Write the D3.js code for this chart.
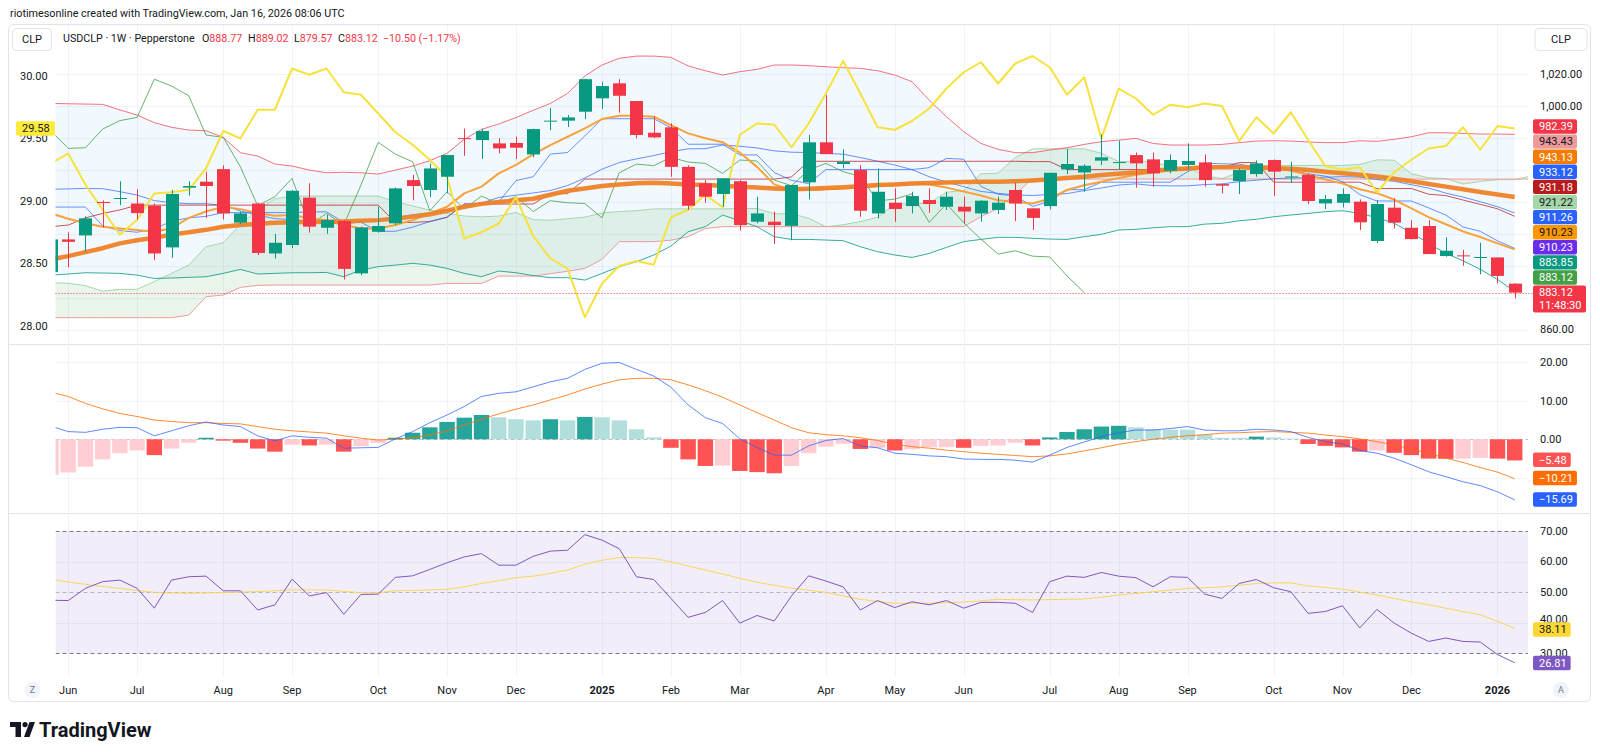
<!DOCTYPE html>
<html lang="en">
<head>
<meta charset="utf-8">
<title>USDCLP 1W</title>
<script src="https://d3js.org/d3.v7.min.js"></script>
<style>
  body { margin: 0; background: #ffffff; }
  svg text { font-family: Roboto, "Noto Sans", "DejaVu Sans", sans-serif; }
</style>
</head>
<body>
<svg id="chart" width="1600" height="756"></svg>
<script>
// weekly candles, week of May 27 2024 .. week of Jan 12 2026 (86 bars)
const open = [896, 916.5, 919, 940, 942, 939, 937.6, 911.5, 949, 952.7,
  960.6, 927, 939, 907.7, 913, 942.7, 923.8, 928, 895.2, 921.3,
  926.6, 953.7, 947.5, 955.8, 980, 978.8, 976.7, 977, 969.8, 990.5,
  991, 996.6, 1005, 1014.4, 1003.3, 983.4, 986.8, 962, 951.7, 945,
  953, 927.6, 927.6, 925, 952.3, 977.4, 963.8, 960, 932.8, 939.5,
  937.4, 941.2, 937, 937, 932.8, 935, 947.5, 936, 937.4, 960.4,
  958.5, 965.9, 964.5, 969.4, 966.7, 959.6, 963.2, 964.8, 951.2, 953.1,
  957.5, 966.3, 955.5, 957, 939.1, 939.5, 940.2, 915.5, 936.4, 923.8,
  924.9, 906.1, 906.5, 905, 905.2, 888.77];
const high = [917, 921, 931, 941, 953, 948, 939, 947.5, 953, 959,
  963, 934, 939.5, 920, 947.5, 951.7, 932, 928.6, 924.5, 937,
  949, 957, 964, 969.4, 986, 986, 980, 981, 986, 999,
  994.5, 1017.3, 1015.4, 1017, 1003.3, 993.5, 989.3, 963, 953.7, 955,
  953.7, 943.3, 934, 950.6, 982, 1007, 973, 963, 961, 948.5,
  946.4, 948.5, 946.4, 943.3, 941, 943.3, 952, 936, 958.3, 973,
  963.6, 982.4, 978.4, 971, 971, 969.8, 976.7, 969.8, 951.2, 961.1,
  966, 966.7, 965.2, 958, 944.3, 948.5, 941.6, 941.2, 942.2, 928.6,
  928.6, 917.8, 910, 914.4, 905.2, 889.02];
const low = [895, 899, 909, 924, 938, 929, 903.5, 905, 944, 930,
  929, 926, 906.7, 904.6, 911, 920.7, 920, 891.4, 894, 920.7,
  925.5, 941, 943, 945.4, 969, 967, 970.5, 967, 968, 985,
  987, 992, 998.3, 996, 980, 980, 955.8, 935, 939.5, 937,
  922, 926.6, 913.6, 916, 941.6, 970, 961, 930.7, 929.7, 927.6,
  932.8, 933.2, 935, 926.6, 927.6, 932.4, 928, 922.4, 935.3, 957.5,
  946.4, 963.2, 960.6, 949, 949.6, 957.9, 960.4, 949.6, 945.4, 945,
  955.8, 943.7, 952, 938.5, 935.6, 936.6, 922.4, 914.4, 923.4, 916.5,
  907.3, 905.6, 900, 894.6, 889, 879.57];
const close = [916.5, 915, 929.7, 939.3, 942.5, 933, 907.7, 945, 950, 950,
  932.8, 932.8, 908, 914.4, 947, 924.5, 928.6, 898, 924, 924.9,
  948.5, 950, 961, 969.4, 979.5, 984.5, 973.6, 974, 985.7, 991,
  993, 1017, 1012.7, 1006.6, 982, 980.5, 962, 937.6, 943.3, 954.8,
  925.5, 932.8, 925.5, 950.6, 977.4, 970, 965.2, 934.5, 946.4, 935.6,
  943.7, 938.7, 943.3, 934, 940.8, 939.5, 939, 930, 958.3, 963.8,
  962.7, 968, 965, 964.2, 957.9, 966.3, 965.7, 953.7, 950.2, 960,
  964.2, 959, 956, 940.6, 941.8, 945, 927.2, 938.7, 927, 916.7,
  907.3, 909.4, 906, 905.5, 893.62, 883.12];

// overlay symbol on the left scale (yellow)
const leftSeries = [29.30, 29.38, 29.13, 28.93, 28.73, 28.85, 29.06, 29.07, 29.09, 29.26,
  29.56, 29.50, 29.73, 29.73, 30.06, 30.01, 30.06, 29.87, 29.85, 29.70,
  29.55, 29.45, 29.33, 29.19, 28.70, 28.75, 28.82, 29.03, 28.72, 28.54,
  28.46, 28.07, 28.34, 28.48, 28.52, 28.49, 28.87, 28.93, 29.05, 28.95,
  29.53, 29.62, 29.61, 29.43, 29.62, 29.86, 30.12, 29.86, 29.59, 29.57,
  29.64, 29.74, 29.90, 30.03, 30.11, 29.94, 30.10, 30.16, 30.07, 29.85,
  29.99, 29.50, 29.90, 29.82, 29.69, 29.77, 29.75, 29.78, 29.76, 29.48,
  29.67, 29.54, 29.71, 29.49, 29.28, 29.25, 29.27, 29.07, 29.23, 29.33,
  29.42, 29.44, 29.59, 29.41, 29.60, 29.58];

// Bollinger bands
const bbUpper = [1001.8, 1001.6, 1001.4, 1001.2, 997.7, 994.5, 989.7, 986.8, 985.1, 984.7,
  980.5, 970.9, 968.8, 963.8, 962.5, 960.0, 958.3, 958.6, 958.3, 957.5,
  960.0, 962.5, 965.9, 970.5, 979.3, 985.5, 988.9, 992.9, 997.5, 1001.8,
  1008.1, 1019.0, 1025.9, 1030.1, 1031.5, 1031.5, 1030.7, 1025.3, 1022.3, 1019.6,
  1021.7, 1023.2, 1025.9, 1025.9, 1025.5, 1024.8, 1024.2, 1023.8, 1022.3, 1019.6,
  1015.4, 1003.9, 993.5, 984.1, 976.7, 973.0, 970.9, 970.9, 972.6, 974.0,
  976.1, 977.8, 978.8, 979.9, 976.7, 975.7, 975.7, 975.7, 976.1, 977.2,
  978.2, 978.4, 978.2, 977.6, 977.2, 977.2, 978.4, 978.0, 979.3, 980.9,
  983.4, 983.4, 983.0, 982.6, 982.6, 982.39];
const bbBasis = [947.95, 948.2, 948.5, 948.3, 946.45, 944.3, 940.85, 939.55, 938.9, 938.9,
  937.85, 934.3, 931.8, 929.5, 929.05, 927.8, 927.05, 925.85, 927.8, 928.45,
  930.2, 932.0, 933.15, 934.4, 937.25, 939.3, 942.8, 944.25, 945.65, 947.15,
  950.3, 955.0, 960.55, 964.75, 967.0, 969.1, 971.5, 973.3, 973.4, 975.7,
  974.95, 973.85, 972.05, 971.2, 971.0, 970.45, 969.95, 967.85, 965.55, 963.15,
  960.3, 955.8, 952.5, 949.6, 946.6, 945.4, 944.35, 944.05, 944.65, 945.25,
  947.15, 948.75, 950.6, 951.35, 950.25, 950.1, 950.1, 950.9, 951.35, 952.7,
  953.65, 954.55, 955.0, 955.2, 955.55, 955.85, 955.6, 954.05, 952.95, 950.8,
  948.7, 945.55, 943.05, 940.15, 937.0, 933.12];
const bbLower = [894.1, 894.8, 895.6, 895.4, 895.2, 894.1, 892.0, 892.3, 892.7, 893.1,
  895.2, 897.7, 894.8, 895.2, 895.6, 895.6, 895.8, 893.1, 897.3, 899.4,
  900.4, 901.5, 900.4, 898.3, 895.2, 893.1, 896.7, 895.6, 893.8, 892.5,
  892.5, 891.0, 895.2, 899.4, 902.5, 906.7, 912.3, 921.3, 924.5, 931.8,
  928.2, 924.5, 918.2, 916.5, 916.5, 916.1, 915.7, 911.9, 908.8, 906.7,
  905.2, 907.7, 911.5, 915.1, 916.5, 917.8, 917.8, 917.2, 916.7, 916.5,
  918.2, 919.7, 922.4, 922.8, 923.8, 924.5, 924.5, 926.1, 926.6, 928.2,
  929.1, 930.7, 931.8, 932.8, 933.9, 934.5, 932.8, 930.1, 926.6, 920.7,
  914.0, 907.7, 903.1, 897.7, 891.4, 883.85];

// Ichimoku
const tenkan = [936.8, 936.8, 936.8, 925, 922, 921, 923, 928, 930, 931,
  933.3, 933.3, 933.3, 933.3, 933.3, 933.8, 933.8, 927.2, 927.2, 921.6,
  921.6, 924.2, 927.7, 930.4, 938.7, 938.7, 940, 953.4, 955.8, 970,
  971, 981.4, 992.2, 992.2, 992.2, 992.2, 986.6, 976.2, 976.2, 976.2,
  969.5, 969.5, 958.5, 953.6, 951.5, 960.3, 960.3, 960.3, 960.3, 960.3,
  960.3, 961.5, 967.3, 966.8, 949.8, 944.8, 943.8, 937.2, 940.4, 947.7,
  947.7, 952.4, 952.4, 952.4, 952.4, 952.4, 958.9, 964.4, 963.9, 963.7,
  961.7, 960.2, 960.2, 957.6, 956.2, 952.7, 944.6, 940.6, 940.6, 940.6,
  936.3, 931.8, 924.3, 921.6, 915.6, 910.9];
const kijun = [924.5, 925.5, 930, 932.8, 935, 938, 938, 938, 938, 938,
  938, 938, 938, 938, 938, 938, 938, 938, 938, 938,
  927.2, 927.2, 927.7, 930.4, 938.7, 938.7, 938.7, 938.7, 938.7, 945.2,
  945.2, 954.35, 954.35, 954.35, 954.35, 954.35, 954.35, 954.35, 954.35, 954.35,
  954.35, 954.35, 954.35, 955.7, 965.5, 965.5, 965.5, 965.5, 965.5, 965.5,
  965.5, 965.5, 965.5, 965.5, 965.5, 965.5, 965.5, 965.3, 965.3, 960.3,
  960.3, 960.3, 960.3, 960.3, 960.3, 960.3, 960.3, 960.3, 961.5, 964.7,
  964.7, 952.4, 952.4, 952.4, 952.4, 952.4, 952.4, 948.4, 948.4, 948.4,
  944.85, 944, 941.2, 938.5, 935.7, 931.0];
const chikou = [984.5, 973.6, 974, 985.7, 991, 993, 1017, 1012.7, 1006.6, 982,
  980.5, 962, 937.6, 943.3, 954.8, 925.5, 932.8, 925.5, 950.6, 977.4,
  970, 965.2, 934.5, 946.4, 935.6, 943.7, 938.7, 943.3, 934, 940.8,
  939.5, 939, 930, 958.3, 963.8, 962.7, 968, 965, 964.2, 957.9,
  966.3, 965.7, 953.7, 950.2, 960, 964.2, 959, 956, 940.6, 941.8,
  945, 927.2, 938.7, 927, 916.7, 907.3, 909.4, 906, 905.5, 893.62,
  883.12];
const spanA = [889.3, 889, 887.5, 884, 885.2, 885.2, 890, 895.2, 900.4, 911.9,
  914.4, 926, 935, 942, 943.7, 943.7, 943.7, 943.7, 943.7, 943.7,
  940.2, 937.5, 934.9, 932.8, 931.2, 930.65, 931.15, 933.4, 928.9, 928.5,
  929.5, 930.5, 933, 934, 934.5, 935.65, 935.65, 935.65, 935.65, 935.65,
  935.9, 935.9, 932.6, 932.6, 929.8, 924.4, 925.7, 927.7, 930.4, 938.7,
  938.7, 939.35, 946.05, 947.25, 957.6, 958.1, 967.9, 973.3, 973.3, 973.3,
  973.3, 970.5, 965.3, 965.3, 965.3, 961.9, 961.9, 956.4, 954.65, 958.5,
  962.9, 962.9, 962.9, 962.9, 962.9, 962.9, 963.5, 966.4, 966.15, 957.65,
  955.15, 954.65, 951.25, 952.85, 954, 954, 956.35];
const spanB = [867.4, 867.4, 867.4, 867.4, 867.4, 867.4, 867.4, 867.4, 869, 880.6,
  881.6, 886.4, 887.7, 887.9, 887.9, 887.9, 887.9, 887.9, 887.9, 887.9,
  887.9, 887.9, 887.9, 888.9, 888.9, 888.9, 893.5, 893.5, 893.5, 895,
  896.5, 898.3, 904, 915.1, 915.1, 915.1, 916, 918.2, 923.4, 924.5,
  924.5, 924.5, 924.5, 924.5, 924.5, 924.5, 924.5, 924.5, 924.5, 924.5,
  924.5, 924.5, 924.5, 924.5, 930.7, 936, 945.2, 954.35, 954.35, 954.35,
  954.35, 954.35, 954.35, 954.35, 954.35, 954.35, 954.35, 954.35, 954.35, 954.35,
  954.35, 954.35, 954.35, 954.35, 954.35, 954.35, 954.35, 954.35, 954.35, 954.35,
  954.35, 954.35, 954.35, 954.35, 954.35, 954.35, 954.35];

// moving averages
const maFast = [932.8, 929.5, 926.6, 924.5, 923.4, 922.4, 921.3, 923.5, 930, 934,
  937, 935.5, 933, 931.4, 931.8, 929.7, 928.6, 925.5, 923.4, 923.4,
  925.5, 928.6, 932.8, 937, 945.4, 949.6, 957.9, 963.2, 969.8, 975.7,
  980.9, 986.2, 992, 994.1, 994.1, 993.5, 988.2, 983, 979.9, 977.5,
  971, 962, 951, 947.5, 947.5, 948, 948.5, 949, 950, 951,
  951.5, 951, 949, 946.5, 944, 941, 940, 939, 942, 947.5,
  950.5, 952.7, 955, 957, 958.5, 960, 960.7, 961.1, 961.7, 962,
  962, 961.5, 959.5, 957, 954, 951.5, 948, 945.5, 941.5, 936,
  930.5, 926, 921.5, 918, 914, 910.23];
const maSlow = [904, 906, 908.5, 911, 914, 916, 917.5, 919.5, 921, 922.5,
  924.5, 925.5, 926.3, 927, 927.2, 927.4, 927.6, 927.8, 928.2, 928.6,
  929.5, 930.8, 932.3, 934.5, 937, 938.8, 940, 941, 942, 944.5,
  947, 948.5, 950, 951, 951.8, 952.1, 951.5, 951, 950.6, 950.2,
  949.6, 949, 948.5, 948, 948.3, 948.8, 949.2, 949.8, 950.6, 951,
  951.5, 951.9, 952.2, 952.5, 952.7, 952.7, 953, 953.5, 954.2, 955,
  955.8, 956.9, 957.7, 958.5, 959.6, 960.3, 961, 961.7, 961.7, 961.7,
  961.5, 961.2, 960.8, 960, 959, 958, 957, 956, 954.5, 953,
  951.3, 949.6, 948, 946.3, 944.7, 943.13];

// MACD
const macdHist = [-9.2, -8.6, -7.1, -5.2, -3.6, -2.9, -4.1, -2.4, -0.9, 0.4,
  -0.35, -0.9, -2.4, -3.2, -1.4, -1.6, -1.4, -3.2, -1.8, -1.0,
  0.4, 1.7, 3.1, 4.5, 5.6, 6.3, 5.7, 5.2, 4.9, 5.2,
  4.9, 5.8, 5.7, 4.9, 2.6, 0.5, -2.2, -5.2, -6.9, -6.8,
  -8.2, -8.5, -8.8, -6.9, -3.6, -1.9, -1.2, -2.5, -2.3, -2.9,
  -2.6, -2.1, -2.05, -2.2, -1.7, -1.6, -0.9, -1.6, 0.5, 1.9,
  2.6, 3.3, 3.5, 3.1, 2.6, 2.5, 2.5, 1.2, 0.4, 0.4,
  0.7, 0.5, 0.2, -1.2, -1.7, -2.1, -3.2, -2.9, -3.5, -4.1,
  -5.0, -5.05, -5.0, -4.8, -5.0, -5.48];
const macdLine = [3.4, 2.0, 1.8, 2.6, 3.1, 3.0, 0.9, 2.2, 3.5, 4.5,
  3.7, 3.3, 0.9, -0.4, 0.9, 0.5, 0.3, -2.3, -2.2, -2.1,
  0.1, 2.0, 4.3, 6.3, 8.5, 11.1, 11.9, 12.3, 13.6, 14.9,
  15.8, 18.1, 19.7, 19.9, 18.1, 16.4, 13.5, 8.9, 5.6, 4.1,
  0.1, -2.1, -4.1, -4.1, -1.7, -0.3, 0.2, -1.7, -2.2, -3.6,
  -3.9, -4.3, -4.5, -5.1, -5.2, -5.2, -5.4, -5.9, -4.1, -2.1,
  -0.7, 0.7, 1.7, 2.4, 2.4, 2.8, 3.3, 2.4, 2.2, 2.2,
  2.6, 2.4, 2.0, 0.5, -0.6, -1.2, -2.9, -3.6, -4.9, -6.6,
  -8.4, -9.7, -11.0, -12.0, -13.6, -15.69];
const signalLine = [12.2, 11.1, 9.3, 7.9, 6.7, 5.9, 5.0, 4.6, 4.3, 4.3,
  4.1, 4.0, 3.3, 2.6, 2.2, 1.9, 1.6, 0.9, 0.3, -0.2,
  0.0, 0.4, 1.1, 2.2, 3.7, 5.2, 6.6, 7.8, 8.9, 10.2,
  11.5, 13.0, 14.3, 15.4, 15.8, 15.8, 15.4, 14.1, 12.6, 10.9,
  8.9, 6.9, 5.0, 3.0, 1.7, 1.2, 0.9, 0.4, -0.3, -1.3,
  -1.9, -2.3, -2.8, -3.2, -3.6, -3.9, -4.2, -4.5, -4.3, -3.8,
  -3.0, -2.2, -1.3, -0.6, 0.0, 0.5, 0.9, 1.2, 1.6, 1.7,
  1.9, 2.0, 1.8, 1.6, 1.1, 0.7, 0.1, -0.6, -1.5, -2.5,
  -3.6, -4.9, -6.0, -7.3, -8.5, -10.21];

// RSI and its moving average
const rsi = [47.3, 47.2, 51.2, 53.4, 53.9, 51.2, 44.7, 53.9, 55.0, 55.2,
  50.4, 50.4, 44.1, 45.8, 54.2, 48.7, 49.8, 42.7, 49.2, 49.3,
  54.8, 55.3, 57.4, 59.6, 61.5, 62.6, 58.8, 58.8, 61.7, 63.4,
  63.7, 68.8, 67.0, 64.2, 55.0, 54.1, 47.9, 41.7, 43.3, 47.2,
  39.8, 42.3, 40.5, 48.7, 55.3, 53.6, 51.7, 44.1, 47.2, 44.9,
  46.8, 45.8, 47.2, 44.7, 46.6, 46.6, 46.3, 43.3, 53.4, 55.2,
  54.8, 56.4, 55.2, 54.7, 51.7, 55.0, 54.8, 49.3, 47.9, 52.8,
  54.1, 51.4, 50.1, 43.0, 43.6, 45.5, 38.2, 44.3, 39.8, 36.5,
  33.8, 34.9, 33.8, 33.6, 29.5, 26.81];
const rsiMa = [54.2, 53.3, 52.5, 51.8, 51.2, 50.5, 49.9, 49.7, 49.6, 49.7,
  49.8, 50.0, 50.1, 50.4, 50.7, 50.7, 50.7, 50.2, 49.8, 49.8,
  50.4, 50.5, 50.7, 50.9, 51.7, 52.8, 53.7, 54.7, 55.2, 56.1,
  57.2, 59.1, 60.4, 61.3, 61.3, 61.0, 59.9, 58.5, 57.2, 55.9,
  54.5, 53.2, 52.2, 51.3, 50.6, 49.9, 48.7, 47.6, 46.9, 46.3,
  46.3, 46.3, 46.5, 46.7, 47.1, 47.6, 47.5, 47.4, 47.5, 47.6,
  47.7, 48.3, 49.0, 49.5, 50.1, 50.6, 51.2, 51.4, 51.7, 52.2,
  52.8, 53.0, 53.0, 52.0, 51.5, 50.9, 50.0, 49.0, 47.9, 46.8,
  45.8, 44.7, 43.6, 42.5, 40.4, 38.11];

// axis labels
const monthLabels = ["Jun", "Jul", "Aug", "Sep", "Oct", "Nov", "Dec", "2025", "Feb", "Mar",
  "Apr", "May", "Jun", "Jul", "Aug", "Sep", "Oct", "Nov", "Dec", "2026"];
const monthBars = [1, 5, 10, 14, 19, 23, 27, 32, 36, 40, 45, 49, 53, 58, 62, 66, 71, 75, 79, 84];
const leftTicks = [28, 28.5, 29, 29.5, 30];
const priceTicks = [1020, 1000, 860];
const macdTicks = [20, 10, 0];
const rsiTicks = [70, 60, 50, 40, 30];
const priceTags = ["982.39", "943.43", "943.13", "933.12", "931.18", "921.22", "911.26", "910.23", "910.23", "883.85", "883.12"];
const macdTags = ["\u22125.48", "\u221210.21", "\u221215.69"];
const rsiTags = ["38.11", "26.81"];
const leftTag = "29.58";
const headerText = "riotimesonline created with TradingView.com, Jan 16, 2026 08:06 UTC";
const symbolText = "USDCLP \u00b7 1W \u00b7 Pepperstone";
const countdown = "11:48:30";

// ---------------------------------------------------------------
const svg = d3.select("#chart");
const paneL = 55.5, paneR = 1528;
const priceTop = 25, priceBot = 344, macdBot = 513, rsiBot = 677;
const ink = "#131722", up = "#089981", down = "#F23645";

const x = d3.scaleLinear().domain([0, 85]).range([51, 1514.7]);
const yP = d3.scaleLinear().domain([860, 1020]).range([329.5, 74.4]);
const yL = d3.scaleLinear().domain([28, 30]).range([326, 76]);
const yM = d3.scaleLinear().domain([-10, 20]).range([477.9, 362.1]);
const yR = d3.scaleLinear().domain([30, 70]).range([653, 531]);
const crisp = v => Math.round(v) + 0.5;

const defs = svg.append("defs");
function addClip(id, y0, y1) {
  defs.append("clipPath").attr("id", id).append("rect")
    .attr("x", paneL).attr("y", y0).attr("width", paneR - paneL).attr("height", y1 - y0);
}
addClip("cp-price", priceTop, priceBot);
addClip("cp-macd", priceBot, macdBot);
addClip("cp-rsi", macdBot, rsiBot);

// frame + pane separators
svg.append("rect").attr("x", 8.5).attr("y", 24.5).attr("width", 1582).attr("height", 677)
  .attr("rx", 5).attr("fill", "#fff").attr("stroke", "#e0e3eb");
[priceBot, macdBot].forEach(v => svg.append("line").attr("x1", 9).attr("x2", 1590)
  .attr("y1", v + 0.5).attr("y2", v + 0.5).attr("stroke", "#e0e3eb"));

// grid
const grid = svg.append("g").attr("stroke", "#f0f3fa");
monthBars.forEach(i => grid.append("line").attr("x1", crisp(x(i))).attr("x2", crisp(x(i)))
  .attr("y1", priceTop).attr("y2", rsiBot));
d3.range(860, 1021, 20).forEach(v => grid.append("line").attr("x1", paneL).attr("x2", paneR)
  .attr("y1", crisp(yP(v))).attr("y2", crisp(yP(v))));
[20, 10, -10].forEach(v => grid.append("line").attr("x1", paneL).attr("x2", paneR)
  .attr("y1", crisp(yM(v))).attr("y2", crisp(yM(v))));
[60, 40].forEach(v => grid.append("line").attr("x1", paneL).attr("x2", paneR)
  .attr("y1", crisp(yR(v))).attr("y2", crisp(yR(v))));

// ---------------- price pane ----------------
const gp = svg.append("g").attr("clip-path", "url(#cp-price)");
const lineGen = y => d3.line().x((d, i) => x(i)).y(d => y(d));
function drawLine(g, data, y, color, width, opacity) {
  g.append("path").datum(data).attr("fill", "none").attr("stroke", color)
    .attr("stroke-width", width).attr("stroke-opacity", opacity)
    .attr("stroke-linejoin", "round").attr("d", lineGen(y));
}

// bollinger fill
gp.append("path").datum(bbUpper).attr("fill", "rgba(33,150,243,0.06)")
  .attr("d", d3.area().x((d, i) => x(i)).y0((d, i) => yP(bbLower[i])).y1(d => yP(d)));

// ichimoku cloud, split into runs of one colour
const runs = [];
for (let i = 0; i < spanA.length - 1; i++) {
  const bull = spanA[i] + spanA[i + 1] >= spanB[i] + spanB[i + 1];
  const lastRun = runs[runs.length - 1];
  if (lastRun && lastRun.bull === bull) lastRun.end = i + 1;
  else runs.push({ bull, start: i, end: i + 1 });
}
runs.forEach(r => {
  const idx = d3.range(r.start, r.end + 1);
  gp.append("path").datum(idx)
    .attr("fill", r.bull ? "rgba(67,160,71,0.11)" : "rgba(244,67,54,0.11)")
    .attr("d", d3.area().x(i => x(i)).y0(i => yP(spanB[i])).y1(i => yP(spanA[i])));
});
drawLine(gp, spanA, yP, "#A5D6A7", 1, 1);
drawLine(gp, spanB, yP, "#EF9A9A", 1, 1);

drawLine(gp, bbUpper, yP, "#F23645", 1, 0.7);
drawLine(gp, bbLower, yP, "#089981", 1, 0.8);
drawLine(gp, bbBasis, yP, "#2962FF", 1, 0.7);
drawLine(gp, kijun, yP, "#B71C1C", 1, 0.75);
drawLine(gp, tenkan, yP, "#2962FF", 1, 0.7);
drawLine(gp, chikou, yP, "#43A047", 1, 0.8);
drawLine(gp, maFast, yP, "#F7A23B", 2, 1);
drawLine(gp, maSlow, yP, "#EF8228", 4.5, 0.95);
drawLine(gp, leftSeries, yL, "#F7E23C", 2, 1);

// candles
const candles = gp.append("g");
open.forEach((o, i) => {
  const c = close[i], col = c >= o ? up : down, cx = crisp(x(i));
  candles.append("line").attr("x1", cx).attr("x2", cx)
    .attr("y1", yP(high[i])).attr("y2", yP(low[i])).attr("stroke", col);
  const top = yP(Math.max(o, c)), bot = yP(Math.min(o, c));
  candles.append("rect").attr("x", Math.round(x(i)) - 6).attr("width", 13)
    .attr("y", top).attr("height", Math.max(1, bot - top)).attr("fill", col);
});
// last price line
const lastY = yP(close[close.length - 1]);
svg.append("line").attr("x1", paneL).attr("x2", paneR + 5).attr("y1", crisp(lastY)).attr("y2", crisp(lastY))
  .attr("stroke", down).attr("stroke-dasharray", "1,2");

// ---------------- MACD pane ----------------
const gm = svg.append("g").attr("clip-path", "url(#cp-macd)");
gm.append("line").attr("x1", paneL).attr("x2", paneR).attr("y1", crisp(yM(0))).attr("y2", crisp(yM(0)))
  .attr("stroke", "#787B86").attr("stroke-opacity", 0.5).attr("stroke-dasharray", "4,3");
macdHist.forEach((h, i) => {
  const prev = i > 0 ? macdHist[i - 1] : h;
  const col = h >= 0 ? (h > prev ? "#26A69A" : "#B2DFDB") : (h < prev ? "#FF5252" : "#FFCDD2");
  const y0 = yM(0), y1 = yM(h);
  gm.append("rect").attr("x", x(i) - 7.7).attr("width", 15.4)
    .attr("y", Math.min(y0, y1)).attr("height", Math.max(0.8, Math.abs(y1 - y0))).attr("fill", col);
});
drawLine(gm, signalLine, yM, "#FF6D00", 1, 0.8);
drawLine(gm, macdLine, yM, "#2962FF", 1, 0.75);

// ---------------- RSI pane ----------------
const gr = svg.append("g").attr("clip-path", "url(#cp-rsi)");
gr.append("rect").attr("x", paneL).attr("width", paneR - paneL).attr("y", yR(70))
  .attr("height", yR(30) - yR(70)).attr("fill", "rgba(126,87,194,0.1)");
[[70, 1], [50, 0.5], [30, 1]].forEach(([v, op]) => gr.append("line")
  .attr("x1", paneL).attr("x2", paneR).attr("y1", crisp(yR(v))).attr("y2", crisp(yR(v)))
  .attr("stroke", "#787B86").attr("stroke-opacity", op).attr("stroke-dasharray", "4,3"));
drawLine(gr, rsiMa, yR, "#F9D34A", 1, 0.9);
drawLine(gr, rsi, yR, "#7E57C2", 1, 1);

// ---------------- axes ----------------
const axisFont = 11;
function axisText(tx, ty, str, anchor) {
  return svg.append("text").attr("x", tx).attr("y", ty).attr("dy", "0.35em")
    .attr("text-anchor", anchor || "start").attr("font-size", axisFont).attr("fill", ink).text(str);
}
const fmt2 = d3.format(",.2f");
priceTicks.forEach(v => axisText(1540, yP(v), fmt2(v)));
macdTicks.forEach(v => axisText(1540, yM(v), fmt2(v)));
// 40 and 30 sit partly under the value tags, as in the original
rsiTicks.forEach(v => axisText(1540, yR(v) - (v === 40 ? 3 : 0), fmt2(v)));
leftTicks.forEach(v => axisText(20, yL(v), d3.format(".2f")(v)));

function tag(tx, cy, str, bg, fg, minW) {
  const t = svg.append("text").attr("x", tx + 6).attr("y", cy).attr("dy", "0.35em")
    .attr("font-size", axisFont).attr("fill", fg).text(str);
  const w = Math.max(minW || 0, t.node().getComputedTextLength() + 10);
  svg.insert("rect", () => t.node()).attr("x", tx).attr("y", cy - 7.2).attr("width", w)
    .attr("height", 14.4).attr("rx", 2).attr("fill", bg);
}
const tagStyle = [["#F23645", "#fff"], ["#EF9A9A", ink], ["#F57C00", "#fff"], ["#2962FF", "#fff"],
  ["#B71C1C", "#fff"], ["#A5D6A7", ink], ["#2962FF", "#fff"], ["#FF9800", ink],
  ["#6A2CF0", "#fff"], ["#089981", "#fff"], ["#43A047", "#fff"]];
priceTags.forEach((s, k) => tag(1533, 126.5 + 15.1 * k, s, tagStyle[k][0], tagStyle[k][1], 44));
// last price with countdown
const lpTop = 126.5 + 15.1 * priceTags.length - 7.2;
svg.append("rect").attr("x", 1533).attr("y", lpTop).attr("width", 53).attr("height", 27)
  .attr("rx", 2).attr("fill", down);
svg.append("text").attr("x", 1539).attr("y", lpTop + 7).attr("dy", "0.35em").attr("font-size", axisFont)
  .attr("fill", "#fff").text(close[close.length - 1].toFixed(2));
svg.append("text").attr("x", 1539).attr("y", lpTop + 20).attr("dy", "0.35em").attr("font-size", axisFont)
  .attr("fill", "#fff").text(countdown);

const macdTagStyle = [["#FF5252", "#fff"], ["#FF6D00", "#fff"], ["#2962FF", "#fff"]];
[459.7, 478, 499.5].forEach((cy, k) => tag(1533, cy, macdTags[k], macdTagStyle[k][0], macdTagStyle[k][1]));
tag(1533, 629.5, rsiTags[0], "#FDD835", ink);
tag(1533, 663, rsiTags[1], "#7E57C2", "#fff");
tag(16, yL(29.58), leftTag, "#FFEB3B", ink, 39);

// time axis
monthBars.forEach((b, k) => svg.append("text").attr("x", x(b)).attr("y", 690).attr("dy", "0.35em")
  .attr("text-anchor", "middle").attr("font-size", axisFont)
  .attr("font-weight", /^\d+$/.test(monthLabels[k]) ? 700 : 400).attr("fill", ink).text(monthLabels[k]));
[[32.5, "Z"], [1561, "A"]].forEach(([cx, s]) => {
  svg.append("circle").attr("cx", cx).attr("cy", 690).attr("r", 8).attr("fill", "#f0f3fa");
  svg.append("text").attr("x", cx).attr("y", 690).attr("dy", "0.35em").attr("text-anchor", "middle")
    .attr("font-size", 9).attr("fill", "#787b86").text(s);
});

// ---------------- header / legend ----------------
svg.append("text").attr("x", 10).attr("y", 13).attr("dy", "0.35em").attr("font-size", 10.8)
  .attr("fill", ink).text(headerText);
[[12.5, 39], [1535, 52]].forEach(([bx, bw]) => {
  svg.append("rect").attr("x", bx).attr("y", 28.5).attr("width", bw).attr("height", 22).attr("rx", 4)
    .attr("fill", "#fff").attr("stroke", "#e0e3eb");
  svg.append("text").attr("x", bx + bw / 2).attr("y", 39.5).attr("dy", "0.35em").attr("text-anchor", "middle")
    .attr("font-size", 11).attr("fill", ink).text("CLP");
});
svg.append("text").attr("x", 63).attr("y", 38).attr("dy", "0.35em").attr("font-size", 10.7)
  .attr("fill", ink).text(symbolText);
const last = close.length - 1;
const ohlc = [["O", open[last]], ["H", high[last]], ["L", low[last]], ["C", close[last]]];
const legendX = [202, 248, 294, 338];
ohlc.forEach(([k, v], j) => {
  const t = svg.append("text").attr("x", legendX[j]).attr("y", 38).attr("dy", "0.35em").attr("font-size", 10.7);
  t.append("tspan").attr("fill", ink).text(k);
  t.append("tspan").attr("fill", down).text(v.toFixed(2));
});
const chg = close[last] - close[last - 1];
const sgn = v => (v < 0 ? "\u2212" : "+") + Math.abs(v).toFixed(2);
svg.append("text").attr("x", 383).attr("y", 38).attr("dy", "0.35em").attr("font-size", 10.7)
  .attr("fill", down).text(sgn(chg) + " (" + sgn(chg / close[last - 1] * 100) + "%)");

// footer logo
const logo = svg.append("g").attr("fill", ink);
logo.append("path").attr("d", "M10 722 H21 V737 H15.5 V727 H10 Z");
logo.append("circle").attr("cx", 25).attr("cy", 724.6).attr("r", 2.6);
logo.append("path").attr("d", "M24 737 L29.5 722 H35 L29.5 737 Z");
svg.append("text").attr("x", 39).attr("y", 730).attr("dy", "0.35em").attr("font-size", 20)
  .attr("font-weight", 700).attr("fill", ink).text("TradingView");
</script>
</body>
</html>
